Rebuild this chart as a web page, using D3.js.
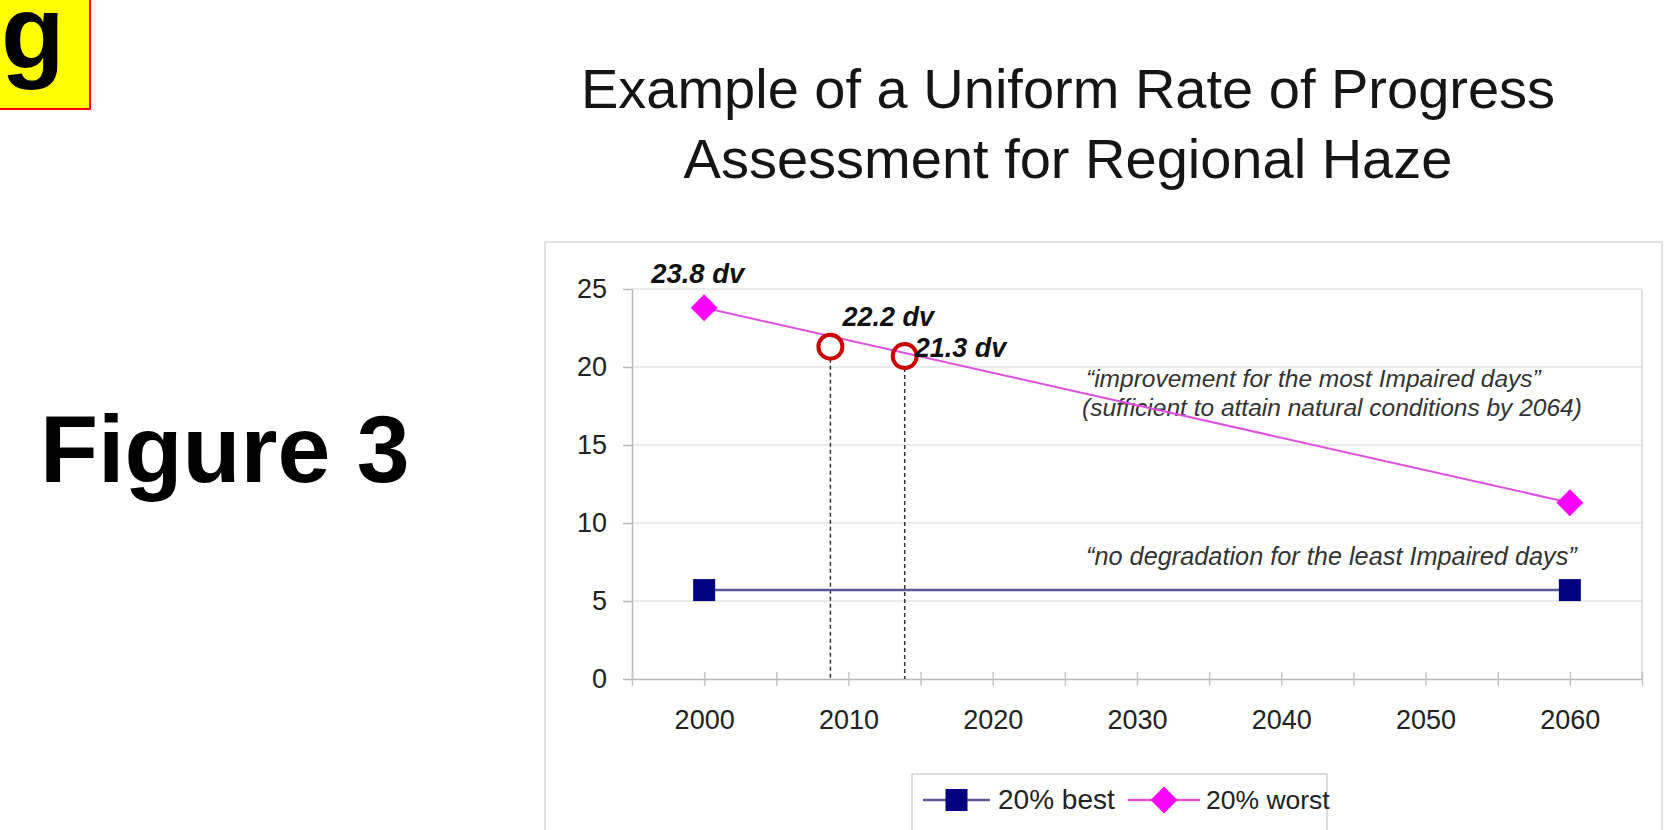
<!DOCTYPE html>
<html>
<head>
<meta charset="utf-8">
<script src="https://cdn.jsdelivr.net/npm/d3@7"></script>
<style>
  html, body { margin: 0; padding: 0; background: #fff; }
  svg { display: block; font-family: "Liberation Sans", Arial, sans-serif; }
</style>
</head>
<body>
<svg id="chart" width="1668" height="830"></svg>
<script>
// ---- data ----
const years = [2000, 2060];
const best = [5.7, 5.7];
const worst = [23.8, 11.3];
const markYears = [2008.75, 2013.9];
const markValues = [21.3, 20.7];
const markLabels = ["22.2 dv", "21.3 dv"];
const startLabel = "23.8 dv";
const yTicks = [0, 5, 10, 15, 20, 25];
const xMinorTicks = [1995, 2000, 2005, 2010, 2015, 2020, 2025, 2030, 2035, 2040, 2045, 2050, 2055, 2060, 2065];
const xTickLabels = [2000, 2010, 2020, 2030, 2040, 2050, 2060];
const seriesNames = ["20% best", "20% worst"];
const titleLines = ["Example of a Uniform Rate of Progress", "Assessment for Regional Haze"];
const notes = ["\u201Cimprovement for the most Impaired days\u201D", "(sufficient to attain natural conditions by 2064)", "\u201Cno degradation for the least Impaired days\u201D"];

// ---- setup ----
const svg = d3.select("#chart");
const plot = { left: 632, right: 1642, top: 289, bottom: 679 };
const x = d3.scaleLinear().domain([1995, 2065]).range([plot.left, plot.right]);
const y = d3.scaleLinear().domain([0, 25]).range([plot.bottom, plot.top]);

const navy = "#000080", navyLine = "#5a5a94", magenta = "#ff00ff", magentaLine = "#e050e0";

// yellow corner box with "g"
svg.append("rect").attr("x", -2).attr("y", -2).attr("width", 92).attr("height", 111)
  .attr("fill", "#ffff00").attr("stroke", "#ff0000").attr("stroke-width", 2);
svg.append("text").attr("x", 1).attr("y", 68).attr("font-size", 104).attr("font-weight", "bold")
  .attr("fill", "#000").text("g");

// Figure 3
svg.append("text").attr("x", 40).attr("y", 482).attr("font-size", 95).attr("font-weight", "bold")
  .attr("fill", "#000").text("Figure 3");

// Title
svg.append("g").selectAll("text").data(titleLines).join("text")
  .attr("x", 1068).attr("y", (d, i) => 108 + i * 70)
  .attr("text-anchor", "middle").attr("font-size", 56).attr("fill", "#151515").text(d => d);

// outer chart box
svg.append("rect").attr("x", 545).attr("y", 242).attr("width", 1117).attr("height", 620)
  .attr("fill", "none").attr("stroke", "#d8d8d8").attr("stroke-width", 1.5);

// gridlines
svg.append("g").selectAll("line").data(yTicks.filter(v => v > 0)).join("line")
  .attr("x1", plot.left).attr("x2", plot.right)
  .attr("y1", d => y(d)).attr("y2", d => y(d))
  .attr("stroke", "#e4e4e4").attr("stroke-width", 1.5);
// plot right border
svg.append("line").attr("x1", plot.right).attr("x2", plot.right)
  .attr("y1", plot.top).attr("y2", plot.bottom)
  .attr("stroke", "#d6d6d6").attr("stroke-width", 1.5);

// y axis
const yAxis = svg.append("g").attr("transform", `translate(${plot.left},0)`)
  .call(d3.axisLeft(y).tickValues(yTicks).tickSize(9).tickPadding(16).tickSizeOuter(0));
yAxis.select(".domain").attr("stroke", "#b8b8b8").attr("stroke-width", 1.5);
yAxis.selectAll(".tick line").attr("stroke", "#b8b8b8").attr("stroke-width", 1.5);
yAxis.selectAll("text").attr("font-size", 27).attr("fill", "#222")
  .attr("font-family", "Liberation Sans, Arial, sans-serif");

// x axis
const xAxis = svg.append("g").attr("transform", `translate(0,${plot.bottom})`)
  .call(d3.axisBottom(x).tickValues(xMinorTicks).tickSize(7).tickPadding(24).tickSizeOuter(0)
    .tickFormat(d => xTickLabels.includes(d) ? String(d) : ""));
xAxis.select(".domain").attr("stroke", "#b8b8b8").attr("stroke-width", 1.5);
xAxis.selectAll(".tick line").attr("y1", -7).attr("stroke", "#c4c4c4").attr("stroke-width", 1.5);
xAxis.selectAll("text").attr("font-size", 27).attr("fill", "#222")
  .attr("font-family", "Liberation Sans, Arial, sans-serif");

// dashed drop lines
svg.append("g").selectAll("line").data(markYears).join("line")
  .attr("x1", d => x(d)).attr("x2", d => x(d))
  .attr("y1", (d, i) => y(markValues[i]) + 12).attr("y2", plot.bottom)
  .attr("stroke", "#333").attr("stroke-width", 1.5).attr("stroke-dasharray", "4,3");

// notes (drawn under the series line, as in the reference)
const notePos = [[1086, 387], [1082, 416], [1086, 565]];
const noteSize = [24.5, 24.5, 25.3];
svg.append("g").selectAll("text").data(notes).join("text")
  .attr("x", (d, i) => notePos[i][0]).attr("y", (d, i) => notePos[i][1])
  .attr("font-size", (d, i) => noteSize[i]).attr("font-style", "italic").attr("fill", "#333").text(d => d);

// series lines
const line = d3.line().x(d => x(d[0])).y(d => y(d[1]));
svg.append("path").datum(years.map((yr, i) => [yr, best[i]]))
  .attr("d", line).attr("fill", "none").attr("stroke", navyLine).attr("stroke-width", 2.5);
svg.append("path").datum(years.map((yr, i) => [yr, worst[i]]))
  .attr("d", line).attr("fill", "none").attr("stroke", magentaLine).attr("stroke-width", 2);

// markers
const sq = d3.symbol(d3.symbolSquare, 22 * 22);
const dia = d3.symbol(d3.symbolSquare, 19 * 19);
svg.append("g").selectAll("path").data(years).join("path")
  .attr("d", sq).attr("transform", (d, i) => `translate(${x(d)},${y(best[i])})`)
  .attr("fill", navy);
svg.append("g").selectAll("path").data(years).join("path")
  .attr("d", dia).attr("transform", (d, i) => `translate(${x(d)},${y(worst[i])}) rotate(45)`)
  .attr("fill", magenta);

// red circles
svg.append("g").selectAll("circle").data(markYears).join("circle")
  .attr("cx", d => x(d)).attr("cy", (d, i) => y(markValues[i])).attr("r", 12)
  .attr("fill", "none").attr("stroke", "#cc0000").attr("stroke-width", 4);

// dv labels
svg.append("text").attr("x", x(years[0]) - 53).attr("y", 283)
  .attr("font-size", 27.5).attr("font-weight", "bold").attr("font-style", "italic").attr("fill", "#111")
  .text(startLabel);
const labelOffsets = [[12, -21], [10, 1]];
svg.append("g").selectAll("text").data(markLabels).join("text")
  .attr("x", (d, i) => x(markYears[i]) + labelOffsets[i][0])
  .attr("y", (d, i) => y(markValues[i]) + labelOffsets[i][1])
  .attr("font-size", 27).attr("font-weight", "bold").attr("font-style", "italic").attr("fill", "#111")
  .text(d => d);

// legend
const lg = svg.append("g");
lg.append("rect").attr("x", 912).attr("y", 774).attr("width", 415).attr("height", 80)
  .attr("fill", "#fff").attr("stroke", "#d4d4d4").attr("stroke-width", 1.5);
const legendItems = [
  { name: seriesNames[0], x0: 923, x1: 990, color: navyLine, sym: sq, fill: navy, rot: 0, tx: 998, fs: 28 },
  { name: seriesNames[1], x0: 1128, x1: 1200, color: magentaLine, sym: dia, fill: magenta, rot: 45, tx: 1206, fs: 26.5 }
];
legendItems.forEach(it => {
  lg.append("line").attr("x1", it.x0).attr("x2", it.x1).attr("y1", 800).attr("y2", 800)
    .attr("stroke", it.color).attr("stroke-width", 2.5);
  lg.append("path").attr("d", it.sym)
    .attr("transform", `translate(${(it.x0 + it.x1) / 2},800) rotate(${it.rot})`)
    .attr("fill", it.fill);
  lg.append("text").attr("x", it.tx).attr("y", 809).attr("font-size", it.fs).attr("fill", "#222").text(it.name);
});
</script>
</body>
</html>
